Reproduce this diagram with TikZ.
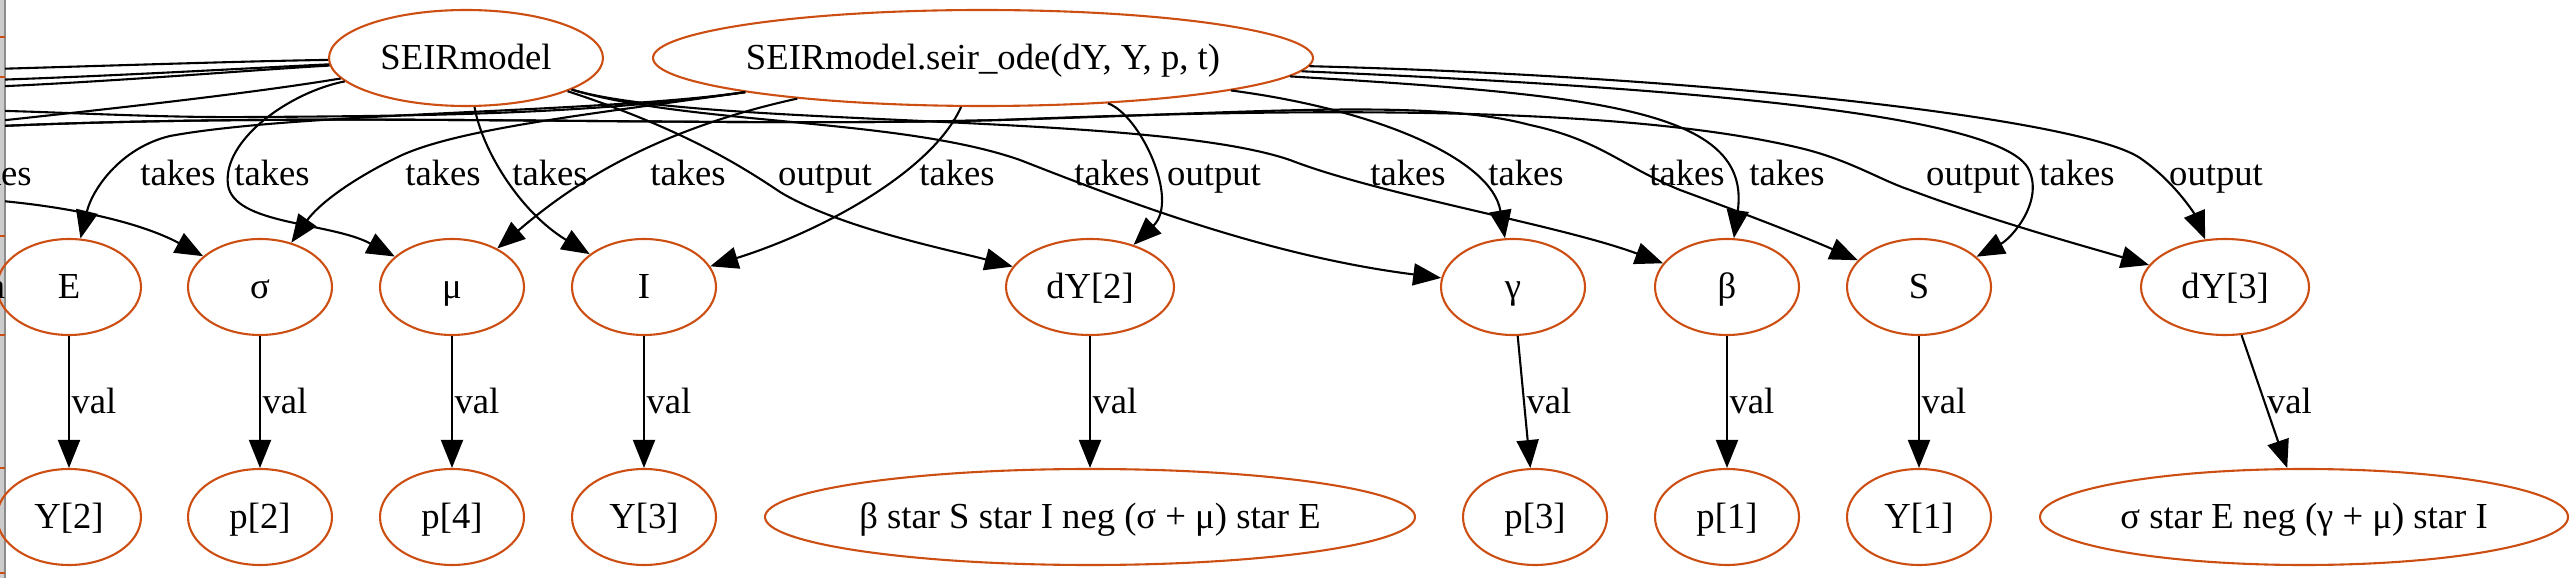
\documentclass[tikz,border=0pt]{standalone}
\usepackage{fontspec}
\setmainfont{Liberation Serif}
\usetikzlibrary{shapes.geometric,arrows.meta}
\definecolor{seirred}{RGB}{204,78,18}
\newcommand{\pxu}{0.382pt}

\begin{document}
\begin{tikzpicture}[x=\pxu, y=-\pxu,
		var/.style={ellipse, draw=seirred, line width=0.8pt, inner sep=0pt, inner xsep=-3pt, minimum width=144*\pxu, minimum height=96*\pxu, text height=10pt, text depth=1.2pt, font=\fontsize{14}{17}\selectfont},
		tag/.style={inner sep=0.6pt, text height=10pt, text depth=1.2pt, font=\fontsize{14}{17}\selectfont},
		wire/.style={line width=0.8pt},
		link/.style={wire, -{Triangle[length=10.7pt,width=8.4pt]}}]
		\useasboundingbox (0,0) rectangle (2570,578);
		\fill[black!20] (0,0) rectangle (5,578);
		\draw[black!45, line width=0.5pt] (5,0) -- (5,578);
		\foreach \yy in {37,77,236,335,468,573}
		\draw[seirred, line width=0.8pt] (0,\yy) -- (5,\yy);
		\node[var, minimum width=274*\pxu] (model) at (466,58) {SEIRmodel};
		\node[var, minimum width=660*\pxu] (ode) at (983,58) {SEIRmodel.seir\_ode(dY, Y, p, t)};
		\foreach \nn/\xx/\ww/\lbl in {E/69/144/E, sigma/260/144/σ, mu/452/144/μ, I/644/144/I, dYb/1090/168/dY[2], gamma/1513/144/γ, beta/1727/144/β, S/1919/144/S, dYc/2225/168/dY[3]}
		\node[var, minimum width=\ww*\pxu] (\nn) at (\xx,287) {\lbl};
		\foreach \nn/\xx/\ww/\lbl in {Ytwo/69/144/Y[2], ptwo/260/144/p[2], pfour/452/144/p[4], Ythree/644/144/Y[3], exb/1090/650/β star S star I neg (σ + μ) star E, pthree/1535/144/p[3], pone/1727/144/p[1], Yone/1919/144/Y[1], exc/2304/528/σ star E neg (γ + μ) star I}
		\node[var, minimum width=\ww*\pxu] (\nn) at (\xx,517) {\lbl};
		\foreach \aa/\bb [count=\vi] in {E/Ytwo, sigma/ptwo, mu/pfour, I/Ythree, dYb/exb, gamma/pthree, beta/pone, S/Yone, dYc/exc}
		\draw[link] (\aa) -- node[tag, anchor=west] (val\vi) {val} (\bb);
		\begin{scope}
			\clip (0,0) rectangle (2570,578);
			\node[tag] (cuta) at (-3,287) {a};
			\foreach \lx/\lt [count=\q] in {-6/takes, 178/takes, 272/takes, 443/takes, 550/takes, 688/takes, 825/output, 957/takes, 1112/takes, 1214/output, 1408/takes, 1526/takes, 1687/takes, 1787/takes, 1973/output, 2077/takes, 2216/output}
			\node[tag] (lab\q) at (\lx,173.5) {\lt};
		\end{scope}
		\begin{scope}
			\clip (5,0) rectangle (2570,578);
			\coordinate (wa) at (-40,70);
			\coordinate (wb) at (-40,81);
			\coordinate (wc) at (-40,88);
			\coordinate (wd) at (-40,125);
			\coordinate (we) at (-40,110);
			\coordinate (wf) at (-40,128);
			\coordinate (wg) at (-40,198);
			\draw[wire] (model) .. controls (250,61) and (100,66) .. (wa);
			\draw[wire] (model) .. controls (250,68) and (100,77) .. (wb);
			\draw[wire] (model) .. controls (250,70) and (100,83) .. (wc);
			\draw[wire] (model) .. controls (240,95) and (100,110) .. (wd);
			\draw[wire] (ode) .. controls (600,113) and (450,116) .. (250,117) .. controls (150,118) and (50,111) .. (we);
			\draw[link] (wg) .. controls (60,203) and (140,222) .. (sigma);
			\draw[link] (ode) .. controls (600,113) and (300,112) .. (170,136) .. controls (120,148) and (92,190) .. (E);
			\draw[link] (ode) .. controls (600,113) and (460,128) .. (400,156) .. controls (350,180) and (318,205) .. (sigma);
			\draw[link] (ode) .. controls (640,133) and (560,195) .. (mu);
			\draw[link] (ode) .. controls (932,172) and (820,232) .. (I);
			\draw[link] (model) .. controls (290,92) and (222,140) .. (228,185) .. controls (234,225) and (330,222) .. (mu);
			\draw[link] (model) .. controls (482,150) and (520,212) .. (I);
			\draw[link] (model) .. controls (680,128) and (740,165) .. (780,192) .. controls (840,228) and (950,250) .. (dYb);
			\draw[link] (ode) .. controls (1140,115) and (1180,200) .. (dYb);
			\draw[link] (model) .. controls (690,125) and (900,118) .. (1020,160) .. controls (1110,195) and (1260,255) .. (gamma);
			\draw[link] (model) .. controls (700,128) and (1150,112) .. (1290,160) .. controls (1380,195) and (1560,225) .. (beta);
			\draw[link] (ode) .. controls (1380,110) and (1492,160) .. (gamma);
			\draw[link] (ode) .. controls (1600,95) and (1752,110) .. (beta);
			\draw[link] (ode) .. controls (1750,90) and (2000,120) .. (2028,168) .. controls (2045,200) and (2012,238) .. (S);
			\draw[link] (ode) .. controls (1700,76) and (2080,118) .. (2140,158) .. controls (2175,182) and (2195,215) .. (dYc);
			\draw[link] (wf) .. controls (300,110) and (700,128) .. (1000,120) .. controls (1250,113) and (1430,98) .. (1530,125) .. controls (1600,140) and (1620,165) .. (1680,190) .. controls (1740,212) and (1800,235) .. (S);
			\draw[link] (wf) .. controls (300,110) and (700,128) .. (1000,120) .. controls (1300,108) and (1620,105) .. (1800,148) .. controls (1850,160) and (1880,180) .. (1910,190) .. controls (1990,220) and (2080,245) .. (dYc);
		\end{scope}
	\end{tikzpicture}
\end{document}
